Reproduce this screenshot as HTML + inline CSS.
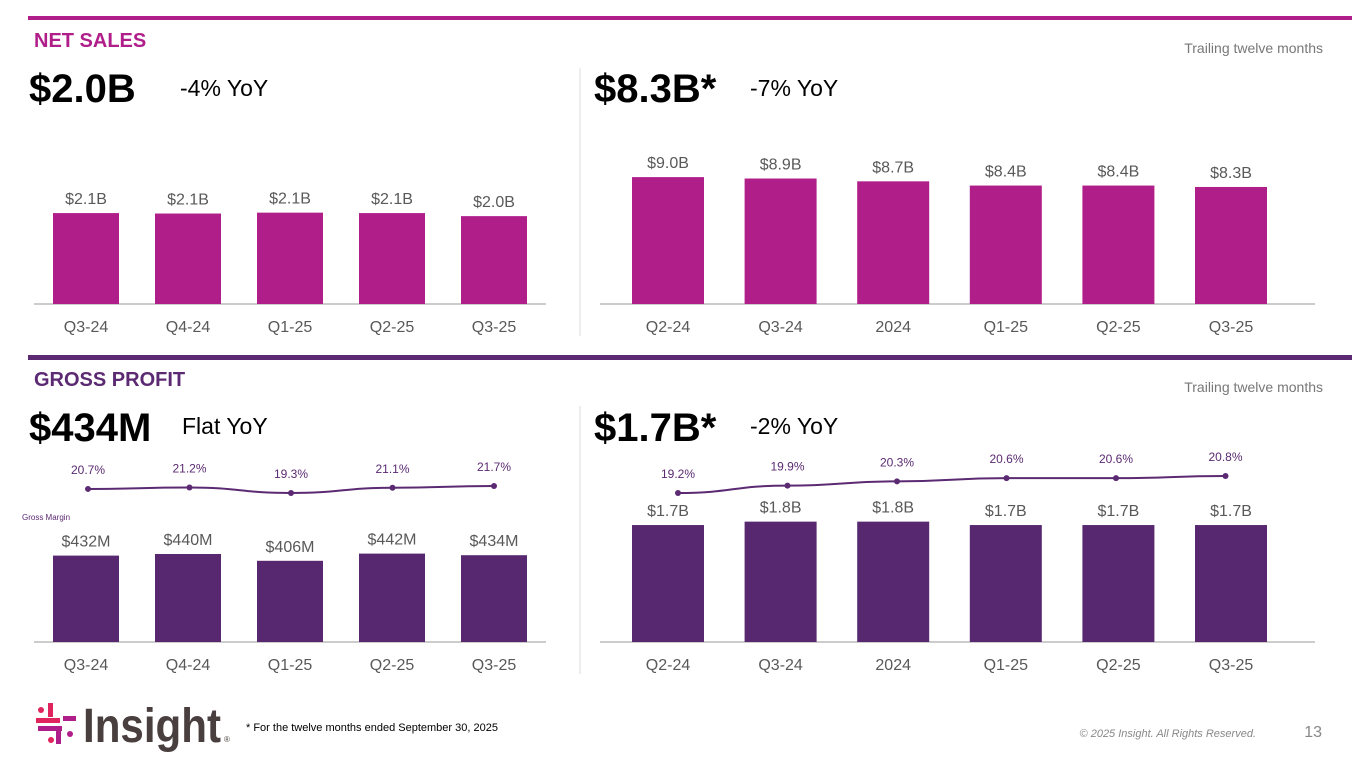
<!DOCTYPE html>
<html><head><meta charset="utf-8"><style>
body{margin:0;width:1365px;height:768px;background:#fff;overflow:hidden;font-family:"Liberation Sans",sans-serif;}
svg{position:absolute;left:0;top:0}
</style></head><body>
<svg id="s" width="1365" height="768">
<rect x="28" y="16" width="1324" height="4" fill="#B01E8A"/>
<rect x="28" y="355" width="1324" height="5" fill="#5B2A72"/>
<line x1="580" y1="68" x2="580" y2="336" stroke="#ddd"/>
<line x1="580" y1="406" x2="580" y2="674" stroke="#ddd"/>
<text x="34" y="47" font-size="20" font-weight="bold" fill="#B01E8A">NET SALES</text>
<text x="1323" y="53" font-size="14" fill="#777" text-anchor="end">Trailing twelve months</text>
<text x="29" y="102" font-size="40" font-weight="bold" fill="#000">$2.0B</text>
<text x="180" y="96" font-size="23" fill="#000">-4% YoY</text>
<text x="594" y="102" font-size="40" font-weight="bold" fill="#000">$8.3B*</text>
<text x="750" y="96" font-size="23" fill="#000">-7% YoY</text>
<text x="34" y="386" font-size="20" font-weight="bold" fill="#5B2A72">GROSS PROFIT</text>
<text x="1323" y="392" font-size="14" fill="#777" text-anchor="end">Trailing twelve months</text>
<text x="29" y="441" font-size="40" font-weight="bold" fill="#000">$434M</text>
<text x="182" y="434" font-size="23" fill="#000">Flat YoY</text>
<text x="594" y="441" font-size="40" font-weight="bold" fill="#000">$1.7B*</text>
<text x="750" y="434" font-size="23" fill="#000">-2% YoY</text>
<text x="22" y="520" font-size="8" fill="#5B2A72">Gross Margin</text>
<g>
<rect x="36" y="718" width="24" height="5" fill="#E0245E"/>
<rect x="48" y="703" width="5" height="14" fill="#E0245E"/>
<circle cx="41" cy="710" r="3" fill="#E0245E"/>
<rect x="38" y="726" width="24" height="5" fill="#B01E8A"/>
<rect x="56" y="726" width="5" height="18" fill="#B01E8A"/>
<circle cx="51" cy="740" r="3" fill="#E0245E"/>
<rect x="63" y="716" width="13" height="5" fill="#B01E8A"/>
<circle cx="70" cy="734" r="3" fill="#B01E8A"/>
<text x="83" y="742" font-size="48" font-weight="bold" fill="#4A3F3F" textLength="138" lengthAdjust="spacingAndGlyphs">Insight</text>
<text x="224" y="742" font-size="8" fill="#4A3F3F">®</text>
</g>
<text x="246" y="731" font-size="11" fill="#000">* For the twelve months ended September 30, 2025</text>
<text x="1256" y="737" font-size="11" font-style="italic" fill="#888" text-anchor="end">© 2025 Insight. All Rights Reserved.</text>
<text x="1322" y="737" font-size="16" fill="#888" text-anchor="end">13</text>
</svg>
<script>
const qCats=["Q3-24","Q4-24","Q1-25","Q2-25","Q3-25"];
const tCats=["Q2-24","Q3-24","2024","Q1-25","Q2-25","Q3-25"];
const nsQ=[2.09,2.08,2.10,2.09,2.02];
const nsQLabels=["$2.1B","$2.1B","$2.1B","$2.1B","$2.0B"];
const nsT=[9.0,8.9,8.7,8.4,8.4,8.3];
const nsTLabels=["$9.0B","$8.9B","$8.7B","$8.4B","$8.4B","$8.3B"];
const gpQ=[432,440,406,442,434];
const gpQLabels=["$432M","$440M","$406M","$442M","$434M"];
const gmQ=[20.7,21.2,19.3,21.1,21.7];
const gpT=[1.72,1.77,1.77,1.72,1.72,1.72];
const gpTLabels=["$1.7B","$1.8B","$1.8B","$1.7B","$1.7B","$1.7B"];
const gmT=[19.2,19.9,20.3,20.6,20.6,20.8];
const svg=document.getElementById('s');
const NS='http://www.w3.org/2000/svg';
function mk(t,a){const e=document.createElementNS(NS,t);for(const k in a)e.setAttribute(k,a[k]);svg.appendChild(e);return e;}
function chart(id,cats,vals,labels,x0,step,bw,base,scale,color,axL,axR){
  const ax=mk('line',{x1:axL,x2:axR,y1:base,y2:base,stroke:'#bbb','stroke-width':1.5});
  
  
  cats.forEach((c,i)=>{
    const cx=x0+i*step,h=vals[i]*scale;
    const r=mk('rect',{x:cx-bw/2,y:base-h,width:bw,height:h,fill:color});
    
    
    const v=mk('text',{x:cx,y:base-h-9,'font-size':16,fill:'#595959','text-anchor':'middle'});v.textContent=labels[i];
    
    
    const t=mk('text',{x:cx,y:base+28,'font-size':16,fill:'#595959','text-anchor':'middle'});t.textContent=c;
    
    
  });
}
function line(id,vals,x0,step,yRef,vRef,k){
  const pts=vals.map((v,i)=>[x0+i*step,yRef-(v-vRef)*k]);
  let d='M'+pts[0];for(let i=1;i<pts.length;i++){const p=pts[i-1],q=pts[i],mx=(p[0]+q[0])/2;d+=' C'+mx+','+p[1]+' '+mx+','+q[1]+' '+q;}
  const l=mk('path',{d:d,fill:'none',stroke:'#5B2A72','stroke-width':2});
  
  
  pts.forEach((p,i)=>{
    const c=mk('circle',{cx:p[0],cy:p[1],r:3,fill:'#5B2A72'});
    
    
    const t=mk('text',{x:p[0],y:p[1]-15,'font-size':12,fill:'#5B2A72','text-anchor':'middle'});t.textContent=vals[i].toFixed(1)+'%';
    
    
  });
}
chart('net-sales-quarterly',qCats,nsQ,nsQLabels,86,102,66,304,43.5,'#B01E8A',34,546);
chart('net-sales-ttm',tCats,nsT,nsTLabels,668,112.6,72,304,14.1,'#B01E8A',600,1315);
chart('gross-profit-quarterly',qCats,gpQ,gpQLabels,86,102,66,642,0.2,'#57286F',34,546);
chart('gross-profit-ttm',tCats,gpT,gpTLabels,668,112.6,72,642,68,'#57286F',600,1315);
line('gross-margin-quarterly',gmQ,88,101.5,493,19.3,2.9);
line('gross-margin-ttm',gmT,678,109.5,493,19.2,10.6);
</script>
</body></html>
